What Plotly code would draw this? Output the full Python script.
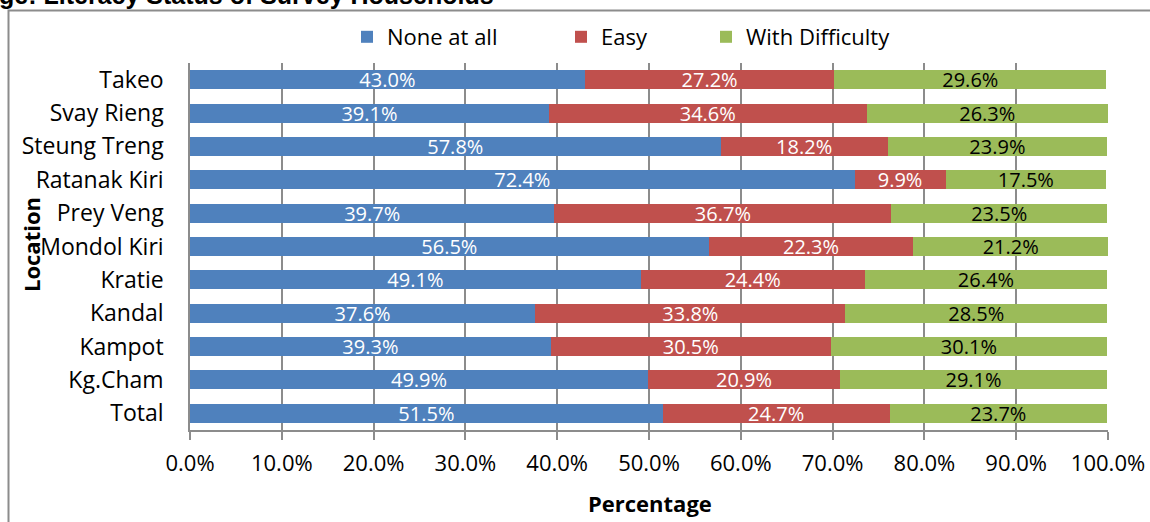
import plotly.graph_objects as go

# Literacy status by location (percent of surveyed households)
locations = ["Takeo", "Svay Rieng", "Steung Treng", "Ratanak Kiri", "Prey Veng",
             "Mondol Kiri", "Kratie", "Kandal", "Kampot", "Kg.Cham", "Total"]
none_at_all = [43.0, 39.1, 57.8, 72.4, 39.7, 56.5, 49.1, 37.6, 39.3, 49.9, 51.5]
easy = [27.2, 34.6, 18.2, 9.9, 36.7, 22.3, 24.4, 33.8, 30.5, 20.9, 24.7]
with_difficulty = [29.6, 26.3, 23.9, 17.5, 23.5, 21.2, 26.4, 28.5, 30.1, 29.1, 23.7]

x_ticks = [0, 10, 20, 30, 40, 50, 60, 70, 80, 90, 100]
x_tick_text = [f"{v:.1f}%" for v in x_ticks]

FONT = "Open Sans"
W, H = 1150, 522
ML, MR, MT, MB = 190, 42, 63, 92
PW, PH = W - ML - MR, H - MT - MB


def px_x(p):
    return (p - ML) / PW


def px_y(p):
    return (H - MB - p) / PH


series = [
    ("None at all", none_at_all, "#4F81BD", "white", "legend", 347),
    ("Easy", easy, "#C0504D", "white", "legend2", 561),
    ("With Difficulty", with_difficulty, "#9BBB59", "black", "legend3", 706),
]

fig = go.Figure()
for name, vals, color, tcolor, leg, _ in series:
    fig.add_trace(go.Bar(
        y=locations, x=vals, name=name, orientation="h",
        marker=dict(color=color, line=dict(width=0)),
        width=0.57,
        text=vals, texttemplate="%{x:.1f}%",
        textposition="inside", insidetextanchor="middle",
        constraintext="none", textangle=0,
        textfont=dict(family=FONT, size=20, color=tcolor),
        legend=leg,
    ))

legend_common = dict(orientation="h", yanchor="middle", xanchor="left",
                     bgcolor="rgba(0,0,0,0)",
                     font=dict(family=FONT, size=22, color="black"))
layout_legends = {}
for name, vals, color, tcolor, leg, xpos in series:
    layout_legends[leg] = dict(legend_common, x=px_x(xpos), y=px_y(37))

fig.update_layout(
    width=W, height=H,
    margin=dict(l=ML, r=MR, t=MT, b=MB, pad=0, autoexpand=False),
    barmode="stack",
    paper_bgcolor="white", plot_bgcolor="white",
    showlegend=True,
    font=dict(family=FONT, size=22, color="black"),
    **layout_legends,
)

fig.update_xaxes(
    range=[0, 100], tickvals=x_ticks, ticktext=x_tick_text,
    automargin=False,
    showgrid=True, gridcolor="#8C8C8C", gridwidth=1.5,
    showline=True, linecolor="#8C8C8C", linewidth=1.5,
    ticks="outside", ticklen=8, tickcolor="#8C8C8C", tickwidth=1.5,
    tickfont=dict(family=FONT, size=22, color="black"),
    ticklabelstandoff=5,
    zeroline=False,
)
fig.update_yaxes(
    categoryorder="array", categoryarray=locations, autorange="reversed",
    automargin=False,
    showline=True, linecolor="#8C8C8C", linewidth=1.5,
    ticks="", showgrid=False,
    tickfont=dict(family=FONT, size=23, color="black"),
    ticklabelstandoff=20,
)

# Axis titles
fig.add_annotation(
    text="<b>Percentage</b>", xref="paper", yref="paper",
    x=px_x(650), y=px_y(503), xanchor="center", yanchor="middle",
    showarrow=False, font=dict(family=FONT, size=22, color="black"),
)
fig.add_annotation(
    text="<b>Location</b>", xref="paper", yref="paper",
    x=px_x(31), y=px_y(245), xanchor="center", yanchor="middle",
    showarrow=False, textangle=-90,
    font=dict(family=FONT, size=22, color="black"),
)

# Caption running off the top edge
fig.add_annotation(
    text="<b>ge: Literacy Status of Survey Households</b>",
    xref="paper", yref="paper", x=px_x(-3), y=px_y(11),
    xanchor="left", yanchor="bottom", showarrow=False,
    font=dict(family="Liberation Sans", size=25, color="black"),
)

# Chart frame
fig.add_shape(
    type="rect", xref="paper", yref="paper",
    x0=px_x(8.5), x1=px_x(1160), y0=px_y(10.5), y1=px_y(540),
    line=dict(color="#8C8C8C", width=2), fillcolor="rgba(0,0,0,0)", layer="below",
)

fig.write_html("out.html")
